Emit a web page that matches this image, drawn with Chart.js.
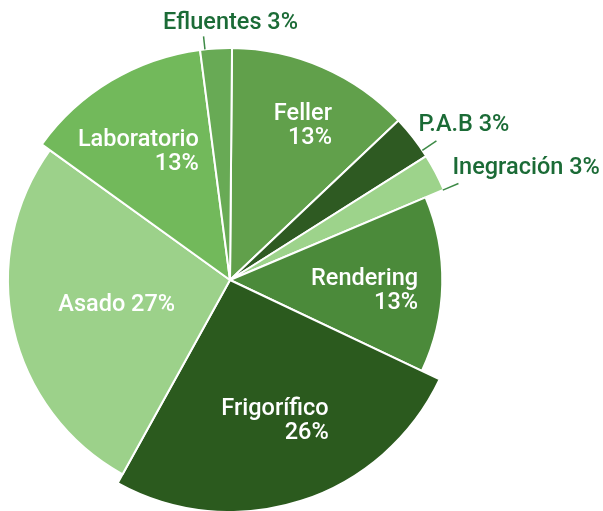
<!DOCTYPE html>
<html>
<head>
<meta charset="utf-8">
<script src="https://cdn.jsdelivr.net/npm/chart.js@4"></script>
<style>
  html, body { margin: 0; padding: 0; background: #fff; }
  #wrap { position: relative; width: 603px; height: 511px; }
</style>
</head>
<body>
<div id="wrap"><canvas id="chart1"></canvas></div>
<script>
// slices, clockwise from the top
const categories = ['Feller', 'P.A.B', 'Inegración', 'Rendering', 'Frigorífico', 'Asado', 'Laboratorio', 'Efluentes'];
const shares = [12.8, 3.1, 2.6, 13.4, 26.0, 26.9, 13.0, 2.2];
const pctLabels = ['13%', '3%', '3%', '13%', '26%', '27%', '13%', '3%'];

const colors = ['#61a04b', '#2e5a22', '#9dd38b', '#4b8a3a', '#2b5a1e', '#9cd18a', '#72b95b', '#68aa55'];
const radiusScale = [1, 1, 1, 0.915, 1, 0.957, 1, 1];

// label placement (radius px, angle deg clockwise from top)
const inside = [
  { i: 0, r: 170, deg: 25.4 },
  { i: 3, r: 135, deg: 94.7 },
  { i: 4, r: 148, deg: 162.3 },
  { i: 5, r: 116, deg: 257.5, oneLine: true },
  { i: 6, r: 157, deg: 324.3 }
];
const outside = [
  { i: 7, deg: 353.8, r1: 232, r2: 245, dx: 27, dy: -13, align: 'center' },
  { i: 1, deg: 56.0, r1: 232, r2: 249, dx: -18, dy: -16, align: 'left' },
  { i: 2, deg: 67.1, r1: 231, r2: 248, dx: -6, dy: -15, align: 'left' }
];

const sliceLabels = {
  id: 'sliceLabels',
  afterDatasetUpdate(chart, args) {
    args.meta.data.forEach((arc, i) => { arc.outerRadius = arc.outerRadius * radiusScale[i]; });
  },
  afterDatasetsDraw(chart) {
    const ctx = chart.ctx;
    const arc0 = chart.getDatasetMeta(0).data[0];
    const cx = arc0.x, cy = arc0.y;
    const polar = (r, deg) => {
      const a = (deg - 90) * Math.PI / 180;
      return [cx + r * Math.cos(a), cy + r * Math.sin(a)];
    };
    ctx.save();
    ctx.font = '500 23.5px Roboto';
    ctx.textBaseline = 'middle';

    // white labels inside the slices
    ctx.fillStyle = '#ffffff';
    inside.forEach(l => {
      const [px, py] = polar(l.r, l.deg);
      const lines = l.oneLine ? [categories[l.i] + ' ' + pctLabels[l.i]] : [categories[l.i], pctLabels[l.i]];
      const w = Math.max(...lines.map(t => ctx.measureText(t).width));
      lines.forEach((t, j) => {
        const y = py + (j - (lines.length - 1) / 2) * 24;
        if (lines.length === 1) {
          ctx.textAlign = 'center';
          ctx.fillText(t, px, y);
        } else {
          ctx.textAlign = 'right';
          ctx.fillText(t, px + w / 2, y);
        }
      });
    });

    // small slices: leader line + green text
    outside.forEach(l => {
      const [x1, y1] = polar(l.r1, l.deg);
      const [x2, y2] = polar(l.r2, l.deg);
      ctx.strokeStyle = '#3d8a46';
      ctx.lineWidth = 1.5;
      ctx.beginPath();
      ctx.moveTo(x1, y1);
      ctx.lineTo(x2, y2);
      ctx.stroke();
      ctx.fillStyle = '#1b6b36';
      ctx.textAlign = l.align;
      ctx.fillText(categories[l.i] + ' ' + pctLabels[l.i], x2 + l.dx, y2 + l.dy);
    });
    ctx.restore();
  }
};

const ctx1 = document.getElementById('chart1').getContext('2d');
new Chart(ctx1, {
  type: 'pie',
  data: {
    labels: categories,
    datasets: [{
      data: shares,
      backgroundColor: colors,
      borderColor: '#ffffff',
      borderWidth: 2
    }]
  },
  options: {
    responsive: true,
    maintainAspectRatio: false,
    animation: false,
    rotation: 0.5,
    radius: 232,
    layout: { padding: { left: 0, right: 143, top: 50, bottom: 1 } },
    plugins: {
      legend: { display: false },
      tooltip: { enabled: false }
    }
  },
  plugins: [sliceLabels]
});
</script>
</body>
</html>
